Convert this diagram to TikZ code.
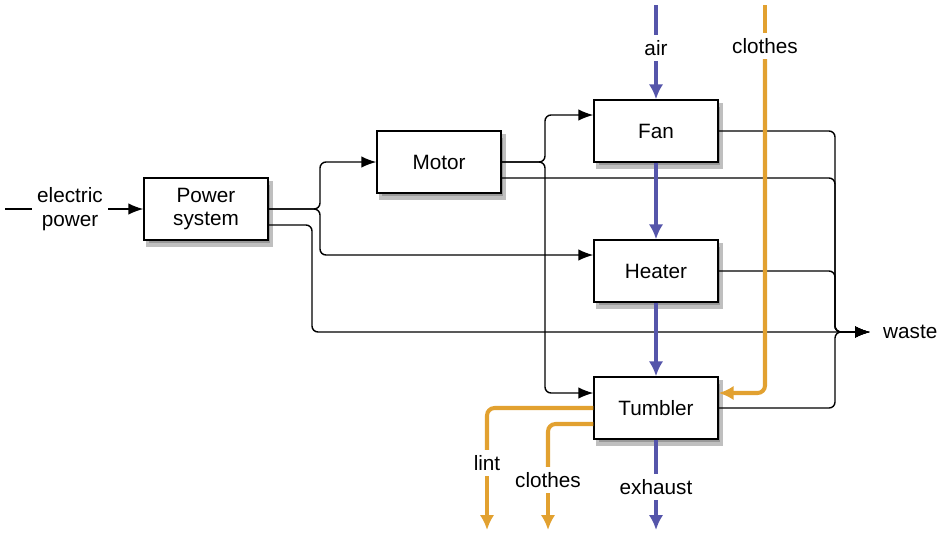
\documentclass[tikz,border=0pt]{standalone}
\usepackage{fontspec}
\setmainfont{Liberation Sans}
\usetikzlibrary{arrows.meta}
\definecolor{DryerBlue}{HTML}{5555AA}
\definecolor{DryerOrange}{HTML}{E2A130}
\tikzset{
  dbox/.style={
    draw=black,
    fill=white,
    line width=0.8pt,
    minimum width=24.8mm,
    minimum height=12.4mm,
    align=center,
    inner sep=2pt,
    font=\fontsize{11.8}{13.5}\selectfont,
    preaction={draw=black!25, fill=black!40, line width=1.8pt,
      transform canvas={shift={(0.7mm,-1mm)}}}
  },
  dlabel/.style={fill=white, inner sep=3pt, align=center, font=\fontsize{11.8}{13.5}\selectfont},
  dflow/.style={-{Latex[length=3mm,width=2.3mm]}, line width=0.8pt, rounded corners=1.2mm},
  airflow/.style={-{Latex[length=3mm,width=2.9mm]}, draw=DryerBlue, line width=2.3pt},
  clothflow/.style={-{Latex[length=3mm,width=2.9mm]}, draw=DryerOrange, line width=2.3pt, rounded corners=1.5mm}
}

\begin{document}
\begin{tikzpicture}[x=0.2mm, y=-0.2mm]
  \useasboundingbox (0,0) rectangle (944,534);
  % boxes
  \node[dbox] (power) at (206,209) {Power\\system};
  \node[dbox] (motor) at (439,162) {Motor};
  \node[dbox] (fan) at (656,131) {Fan};
  \node[dbox] (heater) at (656,271) {Heater};
  \node[dbox] (tumbler) at (656,408) {Tumbler};
  % inputs and outputs
  \coordinate (elecin) at (5,209);
  \node[dlabel] (elec) at (70,209) {electric\\power};
  \coordinate (airin) at (656,5);
  \node[dlabel] (air) at (656,48) {air};
  \coordinate (clothin) at (765,5);
  \node[dlabel] (clothtop) at (765,46) {clothes};
  \node[dlabel] (exhaust) at (656,487) {exhaust};
  \coordinate (exhaustout) at (656,530);
  \node[dlabel] (lint) at (487,463) {lint};
  \coordinate (lintout) at (487,530);
  \node[dlabel] (clothbot) at (548,480) {clothes};
  \coordinate (clothout) at (548,530);
  \coordinate (wastein) at (870,332);
  \node[font=\fontsize{11.8}{13.5}\selectfont, anchor=west] (waste) at (877,332) {waste};
  % electric power
  \draw[line width=0.8pt] (elecin) -- (elec.west);
  \draw[dflow] (elec.east) -- (power.west);
  \draw[dflow] (power.east) -- (320,209) -- (320,162) -- (motor.west);
  \draw[dflow] (power.east) -- (320,209) -- (320,255) -- (heater.west |- 0,255);
  \draw[dflow] (power.east |- 0,225) -- (312,225) -- (312,332) -- (wastein);
  \draw[dflow] (motor.east) -- (545,162) -- (545,115) -- (fan.west |- 0,115);
  \draw[dflow] (motor.east) -- (545,162) -- (545,393) -- (tumbler.west |- 0,393);
  % waste heat
  \draw[dflow] (motor.east |- 0,178) -- (835,178) -- (835,332) -- (wastein);
  \draw[dflow] (fan.east) -- (835,131) -- (835,332) -- (wastein);
  \draw[dflow] (heater.east) -- (835,271) -- (835,332) -- (wastein);
  \draw[dflow] (tumbler.east) -- (835,408) -- (835,332) -- (wastein);
  % air
  \draw[airflow, -] (airin) -- (air.north);
  \draw[airflow] (air.south) -- (fan.north);
  \draw[airflow] (fan.south) -- (heater.north);
  \draw[airflow] (heater.south) -- (tumbler.north);
  \draw[airflow, -] (tumbler.south) -- (exhaust.north);
  \draw[airflow] (exhaust.south) -- (exhaustout);
  % clothes and lint
  \draw[clothflow, -] (clothin) -- (clothtop.north);
  \draw[clothflow] (clothtop.south) -- (765,393) -- (tumbler.east |- 0,393);
  \draw[clothflow, -] (tumbler.west) -- (487,408) -- (lint.north);
  \draw[clothflow] (lint.south) -- (lintout);
  \draw[clothflow, -] (tumbler.west |- 0,424) -- (548,424) -- (clothbot.north);
  \draw[clothflow] (clothbot.south) -- (clothout);
\end{tikzpicture}
\end{document}
